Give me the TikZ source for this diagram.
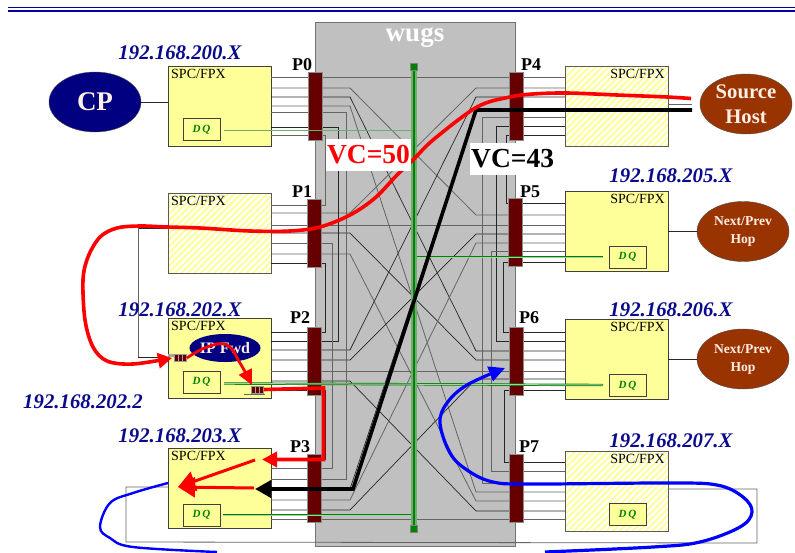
\documentclass[tikz,border=0pt]{standalone}
\usepackage{fontspec}
\setmainfont{Liberation Serif}
\usetikzlibrary{arrows.meta,positioning,patterns.meta,shapes.geometric,calc}
\definecolor{ruleblue}{RGB}{0,0,153}
\definecolor{ipblue}{RGB}{10,10,140}
\definecolor{cpnavy}{RGB}{0,0,128}
\definecolor{hostbrown}{RGB}{153,51,0}
\definecolor{portred}{RGB}{102,0,0}
\definecolor{spcyellow}{RGB}{255,255,153}
\definecolor{wugsgray}{RGB}{192,192,192}
\definecolor{wiregray}{RGB}{100,100,100}
\definecolor{dqgreen}{RGB}{0,128,0}
\definecolor{dqlight}{RGB}{110,175,110}
\definecolor{paletext}{RGB}{255,240,230}

\begin{document}
\begin{tikzpicture}[
  x=1pt, y=-1pt,
  spcbox/.style={draw=black!75, line width=0.8pt, fill=spcyellow, minimum width=103pt, minimum height=80pt, inner sep=0pt, outer sep=0pt},
  hatchbox/.style={draw=black!65, line width=0.8pt, minimum width=103pt, minimum height=80pt, inner sep=0pt, outer sep=0pt,
    preaction={fill=white}, pattern={Lines[angle=45,distance=4.6pt,line width=2pt]}, pattern color=spcyellow},
  spclab/.style={font=\fontsize{14}{14}\selectfont, inner sep=0pt},
  dqbox/.style={draw=black!75, line width=0.8pt, fill=spcyellow, minimum width=37pt, minimum height=22pt, inner sep=0pt,
    text=dqgreen, font=\fontsize{11}{11}\selectfont\bfseries\itshape},
  portbox/.style={draw=black!45, line width=0.5pt, fill=portred, minimum width=14pt, minimum height=68pt, inner sep=0pt, outer sep=0pt},
  portlab/.style={font=\fontsize{18}{18}\selectfont\bfseries, inner sep=0pt},
  iplab/.style={font=\fontsize{20.8}{21}\selectfont\bfseries\itshape, text=ipblue, inner sep=0pt},
  hostbig/.style={ellipse, draw=black!70, fill=hostbrown, minimum width=92pt, minimum height=60pt, inner sep=0pt, outer sep=0pt, align=center,
    text=paletext, font=\fontsize{20.7}{25}\selectfont\bfseries},
  hopbox/.style={hostbig, font=\fontsize{13.6}{18}\selectfont\bfseries},
  vclab/.style={fill=white, inner sep=1pt, minimum height=32pt, font=\fontsize{27.5}{28}\selectfont\bfseries},
  queue/.style={draw=black!40, line width=0.6pt, fill=portred, minimum width=12pt, minimum height=7pt, inner sep=0pt,
    path picture={\draw[black!35, line width=0.8pt] (path picture bounding box.south)++(-2pt,0) -- ++(0,8pt) ++(4pt,0) -- ++(0,-8pt);}},
  wire/.style={draw=wiregray, line width=0.8pt},
  wirek/.style={draw=black!85, line width=0.7pt},
  dqline/.style={draw=dqgreen, line width=0.7pt, double=dqlight!60!white, double distance=1pt},
  redarr/.style={draw=red, line width=3.6pt},
  bluearr/.style={draw=blue, line width=3.2pt},
  blackarr/.style={draw=black, line width=3.6pt}
]
\useasboundingbox (0,0) rectangle (795,552);

% title rule
\draw[ruleblue, line width=0.8pt] (8,7.5) -- (795,7.5);
\draw[ruleblue, line width=2pt] (8,10.5) -- (795,10.5);

% switch
\node[draw=black!55, line width=0.8pt, fill=wugsgray, minimum width=200pt, minimum height=524pt, inner sep=0pt] (wugs) at (415,284) {};
\node[font=\fontsize{27}{27}\selectfont\bfseries, text=white, inner sep=0pt] (wugslab) at (415,38) {wugs};

% spc cards
\node[spcbox] (spc0) at (219.5,106) {};
\node[hatchbox, below=47pt of spc0] (spc1) {};
\node[spcbox, below=45pt of spc1] (spc2) {};
\node[spcbox, below=50pt of spc2] (spc3) {};
\node[hatchbox] (spc4) at (616.5,106) {};
\node[spcbox, below=45.5pt of spc4] (spc5) {};
\node[spcbox, below=47.5pt of spc5] (spc6) {};
\node[hatchbox, below=52pt of spc6] (spc7) {};

% straight through the fabric
\foreach \a/\b/\y in {0/4/77,1/5/225,2/6/371,3/7/519}
  \draw[wire] (spc\a.east |- 0,\y) -- (spc\b.west |- 0,\y);
% crossing the fabric
\foreach \a/\ya/\b/\yb/\wc in {0/88/5/215/wire,0/97/6/351/wirek,0/106/7/492/wire,1/213/4/88/wire,1/233/6/360/wirek,1/254/7/501/wire,
    2/350/4/97/wirek,2/360/5/234/wirek,2/381/7/511/wirek,3/489/4/109/wirek,3/500/5/243/wire,3/510/6/379/wirek}
  \draw[\wc] (spc\a.east |- 0,\ya) -- (350,\ya) -- (476,\yb) -- (spc\b.west |- 0,\yb);
% same side, left
\foreach \a/\ya/\x/\b/\yb/\wc in {0/135/325/1/205/wire,0/127/338/2/341/wirek,0/112/346/3/479/wire,1/263/325/2/332/wirek,1/243/332/3/468/wire,2/390/325/3/459/wirek}
  \draw[\wc] (spc\a.east |- 0,\ya) -- (\x,\ya) -- (\x,\yb) -- (spc\b.east |- 0,\yb);
% same side, right
\foreach \a/\ya/\x/\b/\yb/\wc in {4/117/482/7/483/wire,4/126/496/6/341/wirek,4/135/506/5/203/wirek,5/251/491/7/471/wire,5/262/503/6/332/wirek,6/390/504/7/462/wirek}
  \draw[\wc] (spc\a.west |- 0,\ya) -- (\x,\ya) -- (\x,\yb) -- (spc\b.west |- 0,\yb);

\foreach \n in {0,1,2,3}
  \node[spclab, anchor=north west] (spclab\n) at ($(spc\n.north west)+(3,3)$) {SPC/FPX};
\foreach \n in {4,5,6,7}
  \node[spclab, anchor=north east] (spclab\n) at ($(spc\n.north east)+(-3,3)$) {SPC/FPX};

% ports
\foreach \n/\x/\y in {0/315/106.5,1/314/233,2/314/361,3/314/488,4/516.5/106,5/515/232,6/516/361,7/516.5/488.5}
  \node[portbox] (port\n) at (\x,\y) {};
\foreach \n/\x/\y in {0/302/65,1/302/192,2/300/318,3/300/447,4/531/65,5/530/192,6/529/318,7/529/447}
  \node[portlab] (plab\n) at (\x,\y) {P\n};

% dq boxes
\node[dqbox] (dq0) at (201.5,129.5) {D\,Q};
\node[dqbox] (dq2) at (201.5,382) {D\,Q};
\node[dqbox] (dq3) at (201.5,515) {D\,Q};
\node[dqbox] (dq5) at (627.5,257) {D\,Q};
\node[dqbox] (dq6) at (627.5,385.5) {D\,Q};
\node[dqbox] (dq7) at (627.5,514.5) {D\,Q};

% hosts
\node[ellipse, draw=black!70, fill=cpnavy, minimum width=92pt, minimum height=60pt, inner sep=0pt, outer sep=0pt,
  text=paletext, font=\fontsize{27}{27}\selectfont\bfseries] (cp) at (95,102) {CP};
\node[hostbig, right=32pt of spc4, yshift=2pt] (source) {Source\\Host};
\node[hopbox, right=29pt of spc5] (hop5) {Next/Prev\\Hop};
\node[hopbox, right=29pt of spc6] (hop6) {Next/Prev\\Hop};
\node[ellipse, fill=cpnavy, minimum width=70pt, minimum height=28pt, inner sep=0pt, text=paletext, font=\fontsize{16}{16}\selectfont\bfseries] (ipfwd) at (225,348) {IP Fwd};

\draw[wirek] (cp.east) -- (cp.east -| spc0.west);
\draw[wirek] (hop5.west) -- (hop5.west -| spc5.east);
\draw[wirek] (hop6.west) -- (hop6.west -| spc6.east);
\coordinate (srcin) at (692,104);
\draw[wire] (srcin) -- (srcin -| spc4.east);

% external loops
\draw[wirek] (spc1.west |- 0,228) -- (138,228);
\draw[wire] (138,228) -- (138,357);
\draw[wirek] (138,357) -- (168,357);
\draw[wire] (spc3.west |- 0,487) -- (126,487) -- (126,542) -- (757,543) -- (757,489) -- (spc7.east |- 0,489);
\draw[black!35, line width=3pt] (168,355) -- (176,355);
\node[queue] (qin) at (180.5,358) {};
\node[queue] (qout) at (257.5,389.5) {};
\draw[wire] (244,394) -- (265,394);

% dq links and the control bus
\draw[dqlight, line width=1.6pt] (224,130.5) -- (413.5,130.5);
\draw[dqline] (224,383.5) -- (603,385);
\draw[dqline] (223,515) -- (413.5,515);
\draw[dqline] (413.5,257) -- (603,257);
\draw[dqlight, line width=6pt] (413.5,66) -- (413.5,528);
\draw[dqgreen, line width=2pt] (413.5,66) -- (413.5,528);
\node[draw=black!50, fill=dqgreen, minimum size=7pt, inner sep=0pt] (bustop) at (413.5,66.5) {};
\node[draw=black!50, fill=dqgreen, minimum size=7pt, inner sep=0pt] (busbot) at (413.5,528.5) {};

% vc 43 path
\coordinate (blackstart) at (692,110);
\coordinate (blackend) at (255,489);
\draw[blackarr, -{Triangle[length=16pt,width=17pt]}] (blackstart) -- (476,110) -- (353,489) -- (blackend);

% vc 50 path
\coordinate (redstart) at (691,98.5);
\coordinate (qtip) at (172,358);
\draw[redarr, -{Triangle[length=14pt,width=15pt]}] plot[smooth, tension=0.55] coordinates {(redstart) (667,97) (617,95) (567,93) (533,94) (510,97) (477,107) (433,140) (413,160)
  (397,175) (375,198) (350,215) (320,227) (290,231) (250,231) (200,228) (167,227) (140,226) (117,228) (100,237) (88,257) (83,280) (85,320) (93,347) (107,361) (133,364) (qtip)};
\coordinate (qtipb) at (252,385);
\draw[redarr, line width=2.8pt, -{Triangle[length=15pt,width=14pt]}] plot[smooth, tension=0.7] coordinates {(qin.east) (207,347) (227,345) (240,363) (qtipb)};
\draw[redarr, -{Triangle[length=15pt,width=15pt]}] (qout.east) -- (323.5,388) -- (323.5,459.5) -- (262,459.5);
\coordinate (redmerge) at (178,487);
\coordinate (reda) at (255,460);
\coordinate (redb) at (254,488);
\draw[redarr, line width=3pt, -{Triangle[length=17pt,width=20pt]}] (reda) -- (redmerge);
\draw[redarr, line width=3pt, -{Triangle[length=17pt,width=20pt]}] (redb) -- (redmerge);

% blue loop back
\coordinate (bluestart) at (168,483);
\coordinate (bluemid) at (217,552);
\coordinate (bluemidr) at (545,552);
\coordinate (bluetip) at (505,368);
\draw[bluearr, line width=2.4pt] plot[smooth, tension=0.6] coordinates {(bluestart) (133,493) (110,503) (100,527) (110,538) (133,547) (bluemid)};
\draw[bluearr, -{Triangle[length=16pt,width=15pt]}] plot[smooth, tension=0.6] coordinates {(bluemidr) (653,547) (700,542) (740,527) (752,512) (743,497) (717,485) (667,483) (533,484)
  (493,482) (467,470) (450,453) (440,423) (447,403) (467,385) (bluetip)};

% labels on top
\node[vclab, text=red] (vcfifty) at (368.5,155) {VC=50};
\node[vclab, text=black, anchor=west] (vcfortythree) at (470,159) {VC=43};
\node[iplab] (ip200) at (180,53) {192.168.200.X};
\node[iplab] (ip205) at (671,176) {192.168.205.X};
\node[iplab] (ip202) at (180,309.5) {192.168.202.X};
\node[iplab] (ip2022) at (83,402) {192.168.202.2};
\node[iplab] (ip203) at (180,436) {192.168.203.X};
\node[iplab] (ip206) at (671,310) {192.168.206.X};
\node[iplab] (ip207) at (671,441) {192.168.207.X};
\end{tikzpicture}
\end{document}
